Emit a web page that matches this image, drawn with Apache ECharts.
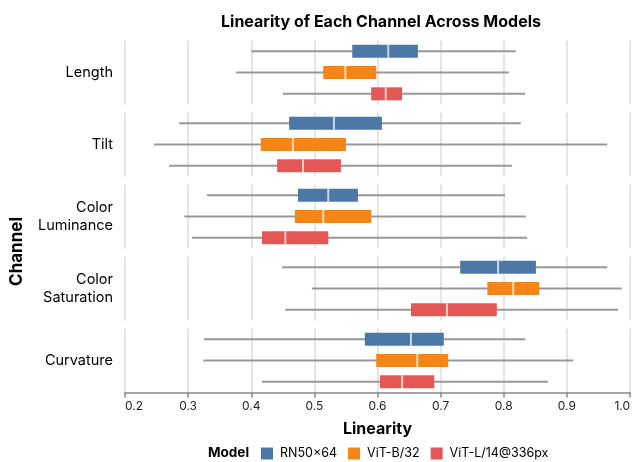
<!DOCTYPE html>
<html>
<head>
<meta charset="utf-8">
<script src="https://cdn.jsdelivr.net/npm/echarts@6/dist/echarts.min.js"></script>
<style>
  html, body { margin: 0; padding: 0; background: #fff; }
  #chart { width: 633px; height: 462px; }
</style>
</head>
<body>
<div id="chart"></div>
<script>
// channels (facet rows) and models (boxes inside each row)
const channels = ["Length", "Tilt", "Color\nLuminance", "Color\nSaturation", "Curvature"];
const models = ["RN50×64", "ViT-B/32", "ViT-L/14@336px"];
const modelColors = ["#4c78a8", "#f58518", "#e45756"];
const xTicks = [0.2, 0.3, 0.4, 0.5, 0.6, 0.7, 0.8, 0.9, 1.0];

// one row per channel, one value per model
const whiskerLow = [
  [0.400, 0.376, 0.450],
  [0.286, 0.246, 0.270],
  [0.330, 0.294, 0.306],
  [0.449, 0.496, 0.454],
  [0.325, 0.324, 0.417],
];
const boxLow = [
  [0.560, 0.514, 0.590],
  [0.460, 0.415, 0.441],
  [0.474, 0.469, 0.417],
  [0.731, 0.774, 0.653],
  [0.580, 0.598, 0.604],
];
const medians = [
  [0.617, 0.549, 0.613],
  [0.531, 0.466, 0.482],
  [0.522, 0.514, 0.454],
  [0.791, 0.815, 0.710],
  [0.653, 0.663, 0.639],
];
const boxHigh = [
  [0.664, 0.598, 0.639],
  [0.607, 0.550, 0.542],
  [0.569, 0.590, 0.522],
  [0.851, 0.856, 0.789],
  [0.705, 0.712, 0.690],
];
const whiskerHigh = [
  [0.819, 0.808, 0.834],
  [0.827, 0.964, 0.813],
  [0.802, 0.835, 0.837],
  [0.964, 0.987, 0.981],
  [0.834, 0.910, 0.870],
];

const font = "Inter, 'Noto Sans', sans-serif";
const rowTop = 40.5, rowH = 64, rowStep = 72;
const last = channels.length - 1;

let grid = [], xAxis = [], yAxis = [], series = [];

channels.forEach((ch, i) => {
  grid.push({ left: 125, right: 3, top: rowTop + rowStep * i, height: rowH, outerBoundsMode: "none" });
  xAxis.push({
    type: "value",
    gridIndex: i,
    min: xTicks[0],
    max: xTicks[xTicks.length - 1],
    interval: 0.1,
    axisLine: { show: i === last, onZero: false, lineStyle: { color: "#888", width: 1.5 } },
    axisTick: { show: i === last, length: 5, lineStyle: { color: "#888", width: 1.5 } },
    axisLabel: {
      show: i === last,
      color: "#222",
      fontFamily: font,
      fontSize: 12,
      margin: 8,
      alignMinLabel: "left",
      alignMaxLabel: "right",
      formatter: (v) => v.toFixed(1),
    },
    splitLine: { show: true, lineStyle: { color: "#ddd", width: 1.5 } },
    name: i === last ? "Linearity" : "",
    nameLocation: "middle",
    nameGap: 29,
    nameTextStyle: { fontFamily: font, fontWeight: "bold", fontSize: 16, color: "#000" },
  });
  yAxis.push({
    type: "category",
    gridIndex: i,
    data: models,
    inverse: true,
    axisLine: { show: false },
    axisTick: { show: false },
    axisLabel: { show: false },
    splitLine: { show: false },
    name: ch,
    nameLocation: "middle",
    nameRotate: 0,
    nameGap: 12,
    nameTextStyle: {
      fontFamily: font,
      fontSize: 14.5,
      color: "#000",
      align: "right",
      verticalAlign: "middle",
      lineHeight: 18.5,
    },
  });

  models.forEach((m, j) => {
    series.push({
      type: "custom",
      name: m,
      xAxisIndex: i,
      yAxisIndex: i,
      itemStyle: { color: modelColors[j] },
      encode: { y: 0, x: [1, 2, 3, 4, 5] },
      data: [[j, whiskerLow[i][j], boxLow[i][j], medians[i][j], boxHigh[i][j], whiskerHigh[i][j]]],
      renderItem: function (params, api) {
        const cat = api.value(0);
        const pLo = api.coord([api.value(1), cat]);
        const pQ1 = api.coord([api.value(2), cat]);
        const pMed = api.coord([api.value(3), cat]);
        const pQ3 = api.coord([api.value(4), cat]);
        const pHi = api.coord([api.value(5), cat]);
        const y = pLo[1];
        const bh = 13;
        return {
          type: "group",
          children: [
            {
              type: "line",
              shape: { x1: pLo[0], y1: y, x2: pHi[0], y2: y },
              style: { stroke: "#999", lineWidth: 2 },
            },
            {
              type: "rect",
              shape: { x: pQ1[0], y: y - bh / 2, width: pQ3[0] - pQ1[0], height: bh },
              style: { fill: modelColors[j] },
            },
            {
              type: "rect",
              shape: { x: pMed[0] - 1, y: y - bh / 2, width: 2, height: bh },
              style: { fill: "rgba(255,255,255,0.7)" },
            },
          ],
        };
      },
    });
  });
});

const chart = echarts.init(document.getElementById("chart"));
chart.setOption({
  animation: false,
  title: {
    text: "Linearity of Each Channel Across Models",
    left: 376,
    textAlign: "center",
    top: 9,
    textStyle: { fontFamily: font, fontWeight: "bold", fontSize: 16, color: "#000" },
  },
  legend: {
    data: models,
    left: 261,
    top: 447,
    padding: 0,
    itemWidth: 12,
    itemHeight: 12,
    itemGap: 11,
    icon: "rect",
    textStyle: { fontFamily: font, fontSize: 12.5, color: "#000", padding: [0, 0, 0, 2] },
  },
  graphic: [
    {
      type: "text",
      left: 8,
      top: 217,
      rotation: Math.PI / 2,
      style: {
        text: "Channel",
        font: "bold 17px " + font,
        fill: "#000",
        textAlign: "center",
        textVerticalAlign: "middle",
      },
    },
    {
      type: "text",
      left: 208,
      top: 446,
      style: { text: "Model", font: "bold 13.5px " + font, fill: "#000" },
    },
  ],
  grid: grid,
  xAxis: xAxis,
  yAxis: yAxis,
  series: series,
});
</script>
</body>
</html>
